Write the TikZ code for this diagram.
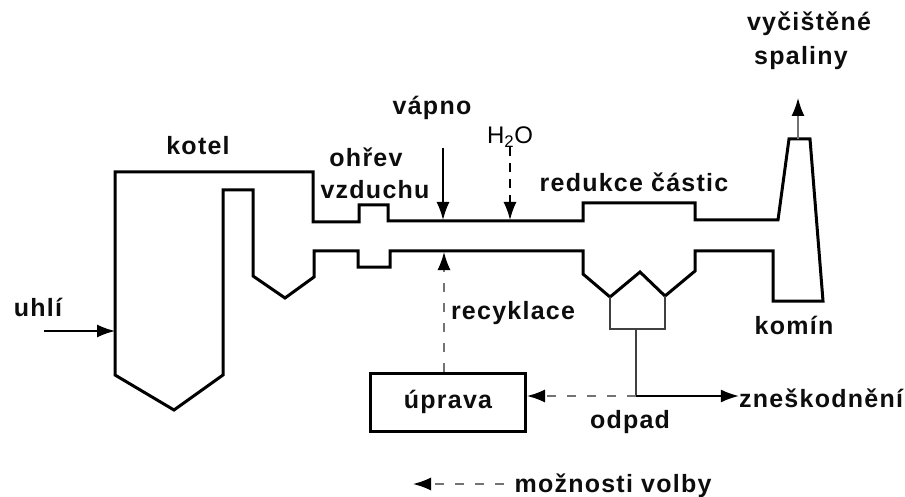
\documentclass[tikz,border=0pt]{standalone}
\usepackage{fontspec}
\setmainfont{Liberation Sans}
\newfontfamily\lblfont[LetterSpace=5]{Liberation Sans}
\usetikzlibrary{arrows.meta,positioning,calc}

\begin{document}
\begin{tikzpicture}[x=1pt,y=-1pt]
  %----- styles
  \tikzset{
    lbl/.style  ={font=\lblfont\bfseries\fontsize{25}{29}\selectfont,text=black!95,inner sep=0pt},
    wall/.style ={draw,line width=3pt,line join=miter},
    thinwall/.style={draw,line width=1.8pt,black!75},
    unit/.style ={draw,line width=3pt,minimum width=155pt,minimum height=58pt,lbl},
    arrow/.style={-{Latex[length=18pt,width=13pt,black]},line width=1.6pt},
    option/.style={arrow,dash pattern=on 9pt off 11pt,black!55}
  }
  \useasboundingbox (0,0) rectangle (905,497);

  %----- process outline
  \draw[wall] (115,172) -- (313,172) -- (313,222) -- (359,222) -- (359,205) -- (388,205)
    -- (388,221) -- (583,221) -- (583,203) -- (695,203) -- (695,220) -- (778,220)
    -- (789,139) -- (810,139) -- (823,301) -- (773,301) -- (773,251) -- (695,251)
    -- (695,271) -- (665,296) coordinate (hopR) -- (640,272) -- (610,297) coordinate (hopL)
    -- (583,274) -- (583,251) -- (390,251) -- (390,267) -- (358,267) -- (358,251)
    -- (314,251) -- (314,277) -- (285,298) -- (253,276) -- (253,190) -- (223,190)
    -- (223,375) -- (174,410) -- (115,375) -- cycle;
  % collector under the hoppers
  \draw[thinwall] (hopL) |- (665,329) coordinate (hopB) -- (hopR);

  %----- nodes
  \node[lbl] (kotel)  at (198,146) {kotel};
  \node[lbl] (ohrev)  at (366,157) {ohřev};
  \node[lbl] (vzduch) at (375,190) {vzduchu};
  \node[lbl] (vapno)  at (432,108) {vápno};
  \node[font=\fontsize{24}{28}\selectfont,inner sep=0pt] (water) at (510,137) {H\textsubscript{2}O};
  \node[lbl] (redukce) at (634,182) {redukce částic};
  \node[lbl] (vycist) at (809,24) {vyčištěné};
  \node[lbl] (spal)   at (801,58) {spaliny};
  \node[lbl] (komin)  at (794,325) {komín};
  \node[lbl] (recykl) at (513,313) {recyklace};
  \node[lbl] (uhli)   at (38,307) {uhlí};
  \node[unit] (uprava) at (448,402) {úprava};
  \node[lbl] (odpad)  at (630,422) {odpad};
  \node[lbl] (znesk)  at (821,398) {zneškodnění};
  \node[lbl] (volby)  at (613,486) {možnosti volby};

  % free ends
  \coordinate (coal)   at (44,331);
  \coordinate (boiler) at (115,331);
  \coordinate (limeA)  at (443,148);
  \coordinate (limeB)  at (443,220);
  \coordinate (waterB) at (510,220);
  \coordinate (recyB)  at (444,252);
  \coordinate (stackA) at (798,139);
  \coordinate (stackB) at (798,98);
  \coordinate (split)  at (636,396);
  \coordinate (legtip) at (413,484);

  %----- connections
  \draw[arrow] (coal) -- (boiler);
  \draw[arrow] (limeA) -- (limeB);
  \draw[arrow,dash pattern=on 9pt off 7pt] (water.south) -- (waterB);
  \draw[arrow,black!55] (stackA) -- (stackB);
  \draw[option] (uprava.north -| recyB) -- (recyB);
  \draw[thinwall] (hopB -| split) -- (split);
  \draw[arrow] (split) -- (znesk.west |- split);
  \draw[option] (split) -- (uprava.east |- split);
  \draw[option] (volby.west) ++(-10,-2) coordinate (legstart) -- (legtip);
\end{tikzpicture}
\end{document}
